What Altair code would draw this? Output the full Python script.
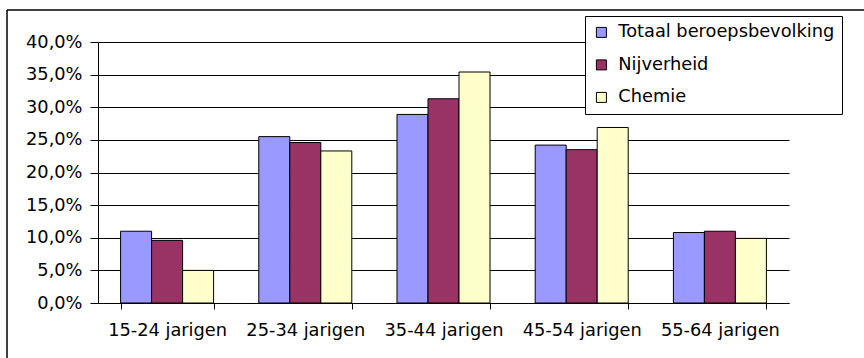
import altair as alt
import pandas as pd

categories = ["15-24 jarigen", "25-34 jarigen", "35-44 jarigen", "45-54 jarigen", "55-64 jarigen"]
series = ["Totaal beroepsbevolking", "Nijverheid", "Chemie"]
totaal = [0.110, 0.255, 0.289, 0.242, 0.108]
nijverheid = [0.096, 0.246, 0.313, 0.235, 0.110]
chemie = [0.050, 0.233, 0.354, 0.269, 0.099]
colors = ["#9999FF", "#993366", "#FFFFCC"]
y_ticks = [0.0, 0.05, 0.10, 0.15, 0.20, 0.25, 0.30, 0.35, 0.40]

rows = []
for name, vals in zip(series, [totaal, nijverheid, chemie]):
    for c, v in zip(categories, vals):
        rows.append({"cat": c, "serie": name, "value": v})
df = pd.DataFrame(rows)

FONT = "DejaVu Sans"
FS = 17.8

bars = alt.Chart(df).mark_bar(stroke="black", strokeWidth=1).encode(
    x=alt.X("cat:N", sort=categories, title=None,
            scale=alt.Scale(paddingInner=0.327, paddingOuter=0.1635),
            axis=alt.Axis(labelAngle=0, domainColor="black", tickColor="black",
                          tickSize=6, tickBand="extent", labelPadding=12,
                          labelFont=FONT, labelFontSize=FS, labelColor="black",
                          grid=False)),
    xOffset=alt.XOffset("serie:N", sort=series, scale=alt.Scale(paddingInner=0, paddingOuter=0)),
    y=alt.Y("value:Q", title=None,
            scale=alt.Scale(domain=[0, 0.4], nice=False, zero=True),
            axis=alt.Axis(values=y_ticks, labelExpr="replace(format(datum.value, '.1%'), '.', ',')",
                          domainColor="black", tickColor="black", tickSize=8,
                          labelPadding=8, gridColor="black", gridWidth=1, grid=True,
                          labelFont=FONT, labelFontSize=FS, labelColor="black")),
    color=alt.Color("serie:N", sort=series,
                    scale=alt.Scale(domain=series, range=colors),
                    legend=alt.Legend(title=None, orient="none", legendX=487, legendY=-26,
                                      strokeColor="black", fillColor="white", padding=7.5,
                                      labelFont=FONT, labelFontSize=FS, labelColor="black",
                                      labelLimit=400,
                                      symbolType="square", symbolSize=100,
                                      symbolStrokeColor="black", symbolStrokeWidth=1,
                                      symbolOpacity=1, rowPadding=13.5, labelOffset=8)),
)

border_data = pd.DataFrame({"k": [0]})
left_border = alt.Chart(border_data).mark_rule(color="black", strokeWidth=1.5).encode(
    x=alt.value(-91), y=alt.value(-32), y2=alt.value(330))
top_border = alt.Chart(border_data).mark_rule(color="black", strokeWidth=1.5).encode(
    x=alt.value(-91), x2=alt.value(800), y=alt.value(-32))

chart = alt.layer(bars, left_border, top_border).properties(
    width=691, height=261,
    autosize=alt.AutoSizeParams(type="none"),
    padding={"left": 98, "top": 42, "right": 75, "bottom": 55},
    background="white",
).configure_view(stroke=None)

chart.save("out.html", embed_options={"renderer": "svg", "actions": False})
